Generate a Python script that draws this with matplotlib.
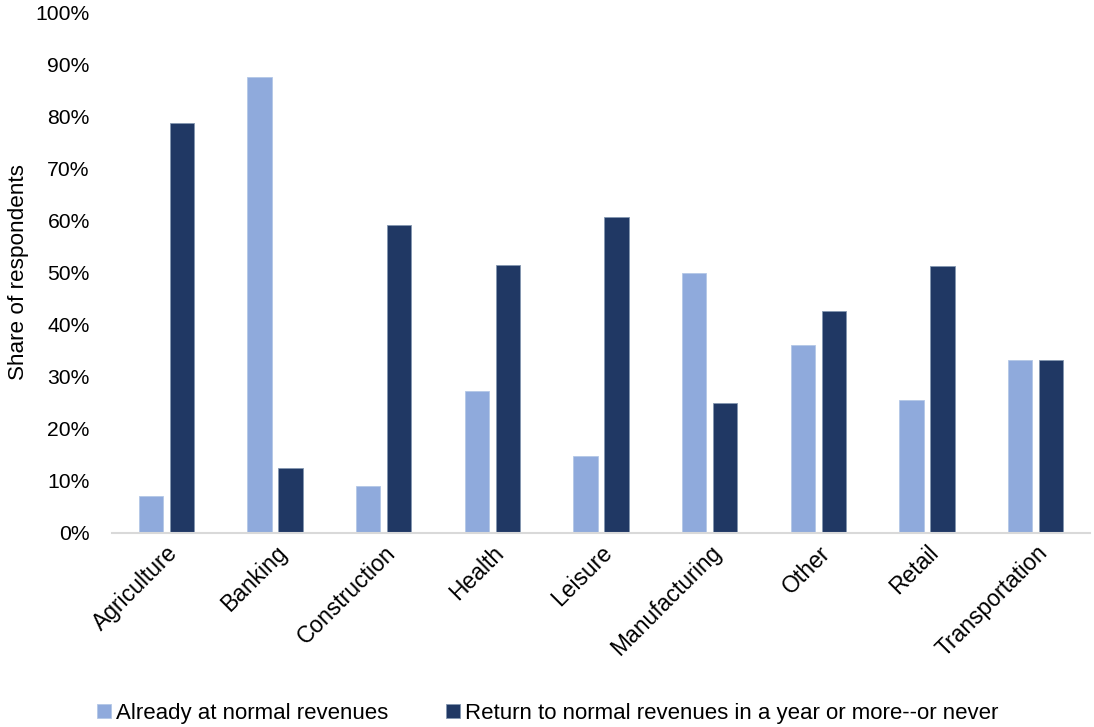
import numpy as np
import matplotlib
matplotlib.use("Agg")
import matplotlib.pyplot as plt
from matplotlib.ticker import PercentFormatter

plt.rcParams['font.family'] = ['Liberation Sans', 'DejaVu Sans']

sectors = ['Agriculture', 'Banking', 'Construction', 'Health', 'Leisure',
           'Manufacturing', 'Other', 'Retail', 'Transportation']
already_normal = [7.1, 87.5, 9.1, 27.3, 14.8, 50.0, 36.0, 25.6, 33.3]
year_or_never = [78.6, 12.5, 59.1, 51.5, 60.7, 25.0, 42.7, 51.3, 33.3]

LIGHT = '#8FAADC'
DARK = '#203864'

fig = plt.figure(figsize=(10.94, 7.27), dpi=100)
ax = fig.add_axes([112 / 1094, 1 - 533 / 727, (1090 - 112) / 1094, (533 - 12) / 727])

x = np.arange(len(sectors))
w = 0.225
off = 0.143
ax.bar(x - off, already_normal, w, color=LIGHT, edgecolor='#B4C7E7', linewidth=0.6,
       label='Already at normal revenues')
ax.bar(x + off, year_or_never, w, color=DARK, edgecolor='#8497B0', linewidth=0.6,
       label='Return to normal revenues in a year or more--or never')

ax.set_xlim(-0.5, len(sectors) - 0.5)
ax.set_ylim(0, 100)
ax.set_yticks(np.arange(0, 101, 10))
ax.yaxis.set_major_formatter(PercentFormatter(decimals=0))
ax.set_xticks(x)
ax.set_xticklabels(sectors, rotation=45, ha='right', rotation_mode='anchor')

for s in ['top', 'right', 'left']:
    ax.spines[s].set_visible(False)
ax.spines['bottom'].set_color('#D9D9D9')
ax.spines['bottom'].set_linewidth(1.5)
ax.tick_params(axis='both', length=0, colors='black')
ax.tick_params(axis='y', pad=16, labelsize=15.2)
ax.tick_params(axis='x', pad=6, labelsize=16.5)

ax.set_ylabel('Share of respondents', fontsize=16.2, labelpad=5)

fig.legend(loc='lower left', bbox_to_anchor=(84 / 1094, -0.014), ncol=2, frameon=False,
           fontsize=16, handlelength=0.6, handleheight=0.6, handletextpad=0.25,
           columnspacing=2.6, borderaxespad=0.2)

fig.savefig('out.png', dpi=100)
